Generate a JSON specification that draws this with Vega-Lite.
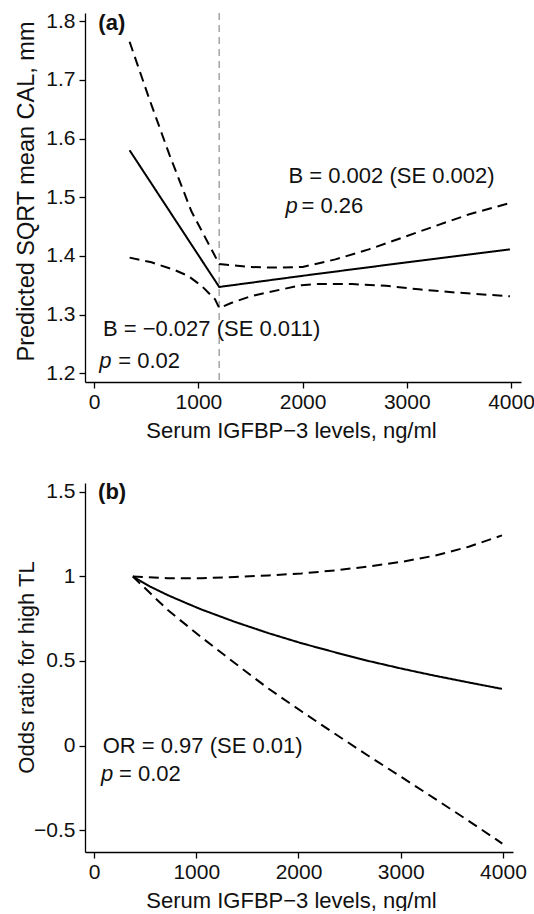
{
  "$schema": "https://vega.github.io/schema/vega-lite/v6.json",
  "padding": {"left": 14, "top": 10, "right": 5, "bottom": 0},
  "spacing": 39,
  "config": {
    "view": {"stroke": null},
    "font": "Liberation Sans",
    "axis": {
      "grid": false,
      "domainColor": "#000",
      "domainWidth": 1.3,
      "tickColor": "#000",
      "tickWidth": 1.3,
      "tickSize": 6,
      "labelFont": "Liberation Sans",
      "labelFontSize": 21,
      "labelColor": "#111",
      "labelPadding": 3,
      "labelFlush": false,
      "titleFont": "Liberation Sans",
      "titleFontSize": 22,
      "titleFontWeight": "normal",
      "titleColor": "#111"
    },
    "text": {"font": "Liberation Sans", "fontSize": 22, "color": "#111"}
  },
  "vconcat": [
    {
      "width": 436,
      "height": 369,
      "layer": [
        {
          "data": {"values": [{"x": 1200}]},
          "mark": {"type": "rule", "color": "#a8a8a8", "strokeWidth": 1.6, "strokeDash": [7, 5]},
          "encoding": {
            "x": {"field": "x", "type": "quantitative", "title": "Serum IGFBP−3 levels, ng/ml", "scale": {"domain": [-88, 4096], "nice": false, "zero": false}}
          }
        },
        {
          "data": {"values": [
            {"series": "fit", "x": 340, "y": 1.580},
            {"series": "fit", "x": 1200, "y": 1.347},
            {"series": "fit", "x": 2000, "y": 1.366},
            {"series": "fit", "x": 3000, "y": 1.389},
            {"series": "fit", "x": 3990, "y": 1.411},
            {"series": "upper", "x": 340, "y": 1.765},
            {"series": "upper", "x": 530, "y": 1.667},
            {"series": "upper", "x": 721, "y": 1.573},
            {"series": "upper", "x": 933, "y": 1.476},
            {"series": "upper", "x": 1200, "y": 1.386},
            {"series": "upper", "x": 1500, "y": 1.381},
            {"series": "upper", "x": 1700, "y": 1.380},
            {"series": "upper", "x": 2000, "y": 1.381},
            {"series": "upper", "x": 2315, "y": 1.394},
            {"series": "upper", "x": 2635, "y": 1.411},
            {"series": "upper", "x": 2955, "y": 1.431},
            {"series": "upper", "x": 3275, "y": 1.451},
            {"series": "upper", "x": 3600, "y": 1.471},
            {"series": "upper", "x": 3990, "y": 1.490},
            {"series": "lower", "x": 340, "y": 1.397},
            {"series": "lower", "x": 550, "y": 1.389},
            {"series": "lower", "x": 770, "y": 1.376},
            {"series": "lower", "x": 900, "y": 1.366},
            {"series": "lower", "x": 1030, "y": 1.349},
            {"series": "lower", "x": 1160, "y": 1.326},
            {"series": "lower", "x": 1200, "y": 1.311},
            {"series": "lower", "x": 1320, "y": 1.320},
            {"series": "lower", "x": 1500, "y": 1.331},
            {"series": "lower", "x": 1670, "y": 1.338},
            {"series": "lower", "x": 1990, "y": 1.350},
            {"series": "lower", "x": 2150, "y": 1.352},
            {"series": "lower", "x": 2475, "y": 1.352},
            {"series": "lower", "x": 2800, "y": 1.349},
            {"series": "lower", "x": 3116, "y": 1.343},
            {"series": "lower", "x": 3436, "y": 1.338},
            {"series": "lower", "x": 3990, "y": 1.331}
          ]},
          "mark": {"type": "line", "color": "#000", "strokeWidth": 2},
          "encoding": {
            "x": {"field": "x", "type": "quantitative", "title": "Serum IGFBP−3 levels, ng/ml",
                  "axis": {"values": [0, 1000, 2000, 3000, 4000], "format": "d", "titlePadding": 8, "titleX": 206}},
            "y": {"field": "y", "type": "quantitative", "title": "Predicted SQRT mean CAL, mm",
                  "scale": {"domain": [1.185, 1.814], "nice": false, "zero": false},
                  "axis": {"values": [1.2, 1.3, 1.4, 1.5, 1.6, 1.7, 1.8], "format": ".1f", "labelPadding": 4, "titleX": -52, "titleY": 178, "titleBaseline": "alphabetic", "titleFontSize": 23.5}},
            "detail": {"field": "series", "type": "nominal"},
            "strokeDash": {"field": "series", "type": "nominal", "scale": {"domain": ["fit", "upper", "lower"], "range": [[1, 0], [10, 6], [10, 6]]}, "legend": null}
          }
        },
        {
          "data": {"values": [
            {"x": 1865, "y": 1.536, "label": "B = 0.002 (SE 0.002)"},
            {"x": 1990, "y": 1.485, "label": "= 0.26"},
            {"x": 84, "y": 1.275, "label": "B = −0.027 (SE 0.011)"},
            {"x": 231, "y": 1.221, "label": "= 0.02"}
          ]},
          "mark": {"type": "text", "align": "left", "baseline": "middle"},
          "encoding": {
            "x": {"field": "x", "type": "quantitative"},
            "y": {"field": "y", "type": "quantitative"},
            "text": {"field": "label"}
          }
        },
        {
          "data": {"values": [
            {"x": 1837, "y": 1.485, "label": "p"},
            {"x": 48, "y": 1.221, "label": "p"}
          ]},
          "mark": {"type": "text", "align": "left", "baseline": "middle", "fontStyle": "italic"},
          "encoding": {
            "x": {"field": "x", "type": "quantitative"},
            "y": {"field": "y", "type": "quantitative"},
            "text": {"field": "label"}
          }
        },
        {
          "data": {"values": [{"x": 40, "y": 1.797, "label": "(a)"}]},
          "mark": {"type": "text", "align": "left", "baseline": "middle", "fontWeight": "bold"},
          "encoding": {
            "x": {"field": "x", "type": "quantitative"},
            "y": {"field": "y", "type": "quantitative"},
            "text": {"field": "label"}
          }
        }
      ]
    },
    {
      "width": 428,
      "height": 369,
      "layer": [
        {
          "data": {"values": [
            {"series": "fit", "x": 380, "y": 1.0},
            {"series": "fit", "x": 550, "y": 0.94},
            {"series": "fit", "x": 720, "y": 0.89},
            {"series": "fit", "x": 900, "y": 0.843},
            {"series": "fit", "x": 1050, "y": 0.805},
            {"series": "fit", "x": 1375, "y": 0.732},
            {"series": "fit", "x": 1705, "y": 0.665},
            {"series": "fit", "x": 2030, "y": 0.605},
            {"series": "fit", "x": 2360, "y": 0.551},
            {"series": "fit", "x": 2685, "y": 0.500},
            {"series": "fit", "x": 3015, "y": 0.454},
            {"series": "fit", "x": 3340, "y": 0.412},
            {"series": "fit", "x": 3665, "y": 0.373},
            {"series": "fit", "x": 3990, "y": 0.335},
            {"series": "upper", "x": 380, "y": 1.0},
            {"series": "upper", "x": 720, "y": 0.99},
            {"series": "upper", "x": 1050, "y": 0.99},
            {"series": "upper", "x": 1375, "y": 0.997},
            {"series": "upper", "x": 1705, "y": 1.006},
            {"series": "upper", "x": 2030, "y": 1.018},
            {"series": "upper", "x": 2360, "y": 1.036},
            {"series": "upper", "x": 2685, "y": 1.059},
            {"series": "upper", "x": 3015, "y": 1.087},
            {"series": "upper", "x": 3340, "y": 1.124},
            {"series": "upper", "x": 3665, "y": 1.176},
            {"series": "upper", "x": 3990, "y": 1.243},
            {"series": "lower", "x": 380, "y": 1.0},
            {"series": "lower", "x": 722, "y": 0.801},
            {"series": "lower", "x": 1049, "y": 0.641},
            {"series": "lower", "x": 1376, "y": 0.488},
            {"series": "lower", "x": 1703, "y": 0.338},
            {"series": "lower", "x": 2032, "y": 0.201},
            {"series": "lower", "x": 2360, "y": 0.068},
            {"series": "lower", "x": 2686, "y": -0.062},
            {"series": "lower", "x": 3013, "y": -0.189},
            {"series": "lower", "x": 3340, "y": -0.317},
            {"series": "lower", "x": 3667, "y": -0.447},
            {"series": "lower", "x": 3993, "y": -0.580}
          ]},
          "mark": {"type": "line", "color": "#000", "strokeWidth": 2},
          "encoding": {
            "x": {"field": "x", "type": "quantitative", "title": "Serum IGFBP−3 levels, ng/ml",
                  "scale": {"domain": [-88, 4098], "nice": false, "zero": false},
                  "axis": {"values": [0, 1000, 2000, 3000, 4000], "format": "d", "titlePadding": 8, "titleX": 206}},
            "y": {"field": "y", "type": "quantitative", "title": "Odds ratio for high TL",
                  "scale": {"domain": [-0.63, 1.553], "nice": false, "zero": false},
                  "axis": {"values": [-0.5, 0, 0.5, 1, 1.5], "format": "~g", "labelPadding": 4, "titleX": -52, "titleY": 184, "titleBaseline": "alphabetic"}},
            "detail": {"field": "series", "type": "nominal"},
            "strokeDash": {"field": "series", "type": "nominal", "scale": {"domain": ["fit", "upper", "lower"], "range": [[1, 0], [10, 6], [10, 6]]}, "legend": null}
          }
        },
        {
          "data": {"values": [
            {"x": 85, "y": 0.0, "label": "OR = 0.97 (SE 0.01)"},
            {"x": 245, "y": -0.166, "label": "= 0.02"}
          ]},
          "mark": {"type": "text", "align": "left", "baseline": "middle"},
          "encoding": {
            "x": {"field": "x", "type": "quantitative"},
            "y": {"field": "y", "type": "quantitative"},
            "text": {"field": "label"}
          }
        },
        {
          "data": {"values": [{"x": 69, "y": -0.166, "label": "p"}]},
          "mark": {"type": "text", "align": "left", "baseline": "middle", "fontStyle": "italic"},
          "encoding": {
            "x": {"field": "x", "type": "quantitative"},
            "y": {"field": "y", "type": "quantitative"},
            "text": {"field": "label"}
          }
        },
        {
          "data": {"values": [{"x": 40, "y": 1.5, "label": "(b)"}]},
          "mark": {"type": "text", "align": "left", "baseline": "middle", "fontWeight": "bold"},
          "encoding": {
            "x": {"field": "x", "type": "quantitative"},
            "y": {"field": "y", "type": "quantitative"},
            "text": {"field": "label"}
          }
        }
      ]
    }
  ]
}
